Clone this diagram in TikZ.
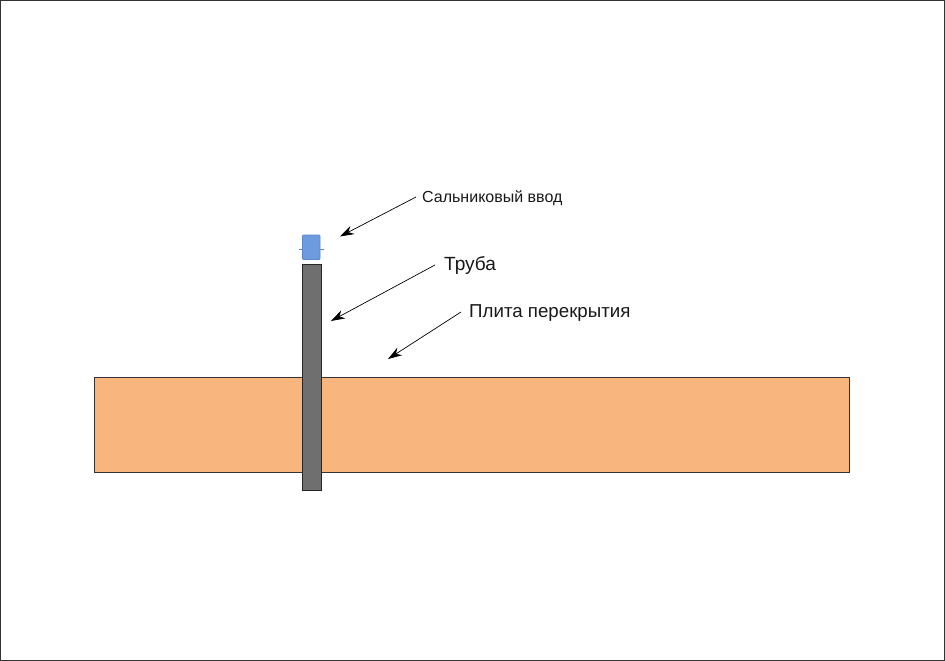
\documentclass[tikz,border=0pt]{standalone}
\usepackage{fontspec}
\setmainfont{Liberation Sans}
\usetikzlibrary{arrows.meta}
\definecolor{slabc}{HTML}{F8B57E}
\definecolor{pipec}{HTML}{6F6F6F}
\definecolor{glandc}{HTML}{6D9BE0}
\definecolor{glandl}{HTML}{5B86C8}
\tikzset{
  blockbox/.style={draw=black!80,line width=1pt,anchor=north west,inner sep=0pt,outer sep=0pt},
  pointer/.style={draw=black,line width=0.7pt,-{Stealth[length=14pt,width=9pt]}},
  labeltext/.style={anchor=west,inner sep=0pt,text=black!90}
}
\begin{document}
\begin{tikzpicture}[x=1pt,y=-1pt]
\useasboundingbox (0,0) rectangle (945,661);
\fill[white] (0,0) rectangle (945,661);
\draw[black!80,line width=1.2pt] (0.6,0.6) rectangle (944.2,660.3);
\node[blockbox,fill=slabc,minimum width=755pt,minimum height=94.5pt] (slab) at (94.8,377.5) {};
\node[blockbox,fill=pipec,draw=black!85,minimum width=19pt,minimum height=226.5pt] (pipe) at (302.5,264) {};
\draw[glandl,line width=0.5pt] (298.5,249) -- (323.5,249);
\node[blockbox,fill=glandc,draw=glandl,line width=0.6pt,rounded corners=0.8pt,minimum width=17.5pt,minimum height=24.5pt] (gland) at (302.5,235) {};
\node[labeltext,font=\fontsize{16}{18}\selectfont] (l1) at (422,198) {Сальниковый ввод};
\node[labeltext,font=\fontsize{19.1}{21}\selectfont] (l2) at (444,265.5) {Труба};
\node[labeltext,font=\fontsize{18.7}{21}\selectfont] (l3) at (469,313.5) {Плита перекрытия};
\coordinate (a1) at (340,236.5);
\coordinate (a2) at (331,321);
\coordinate (a3) at (388,359);
\draw[pointer] (416,197) -- (a1);
\draw[pointer] (435,265) -- (a2);
\draw[pointer] (461,312) -- (a3);
\end{tikzpicture}
\end{document}
